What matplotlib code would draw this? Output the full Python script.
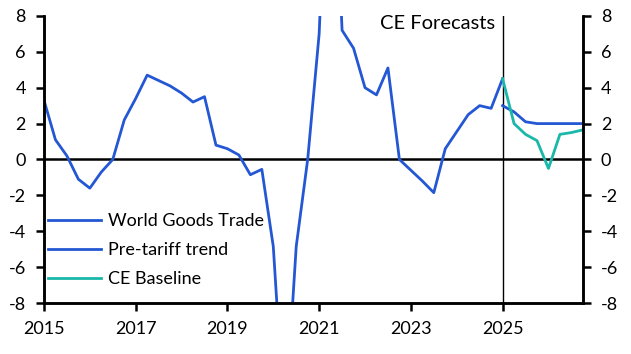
import numpy as np
import matplotlib.pyplot as plt

plt.rcParams['font.family'] = ['Lato', 'DejaVu Sans']
plt.rcParams['axes.unicode_minus'] = False

# quarterly, y/y % change
trade_x = [2015 + 0.25 * i for i in range(41)]
trade_y = [3.3, 1.1, 0.2, -1.1, -1.6, -0.7, 0.0, 2.2, 3.4, 4.7,
           4.4, 4.1, 3.7, 3.2, 3.5, 0.8, 0.6, 0.25, -0.85, -0.55,
           -4.85, -15.0, -4.85, 0.0, 7.0, 22.0, 7.2, 6.2, 4.0, 3.6,
           5.1, 0.0, -0.6, -1.2, -1.85, 0.6, 1.55, 2.5, 3.0, 2.85,
           4.5]

fc_x = [2025 + 0.25 * i for i in range(8)]
trend_y = [3.0, 2.65, 2.1, 2.0, 2.0, 2.0, 2.0, 2.0]
base_y = [4.5, 2.0, 1.4, 1.05, -0.5, 1.4, 1.5, 1.65]

yticks = [-8, -6, -4, -2, 0, 2, 4, 6, 8]
xticks = [2015, 2017, 2019, 2021, 2023, 2025]

blue = '#2457D4'
teal = '#19B8A8'

fig = plt.figure(figsize=(6.31, 3.54), dpi=100)
ax = fig.add_axes([0.0697, 0.144, 0.854, 0.811])

ax.plot(trade_x, trade_y, color=blue, lw=2, label='World Goods Trade')
ax.plot(fc_x, trend_y, color=blue, lw=2, label='Pre-tariff trend')
ax.plot(fc_x, base_y, color=teal, lw=2, label='CE Baseline')

ax.axhline(0, color='black', lw=1.8, zorder=1)
ax.axvline(2025, color='black', lw=1, zorder=1)
ax.text(2024.83, 8.05, 'CE Forecasts', ha='right', va='top', fontsize=14.5)

ax.set_xlim(2015, 2026.75)
ax.set_ylim(-8, 8)
ax.set_xticks(xticks)
ax.set_yticks(yticks)

ax2 = ax.twinx()
ax2.set_ylim(-8, 8)
ax2.set_yticks(yticks)

for a in (ax, ax2):
    a.spines['top'].set_visible(False)
    for s in ('left', 'right', 'bottom'):
        a.spines[s].set_linewidth(1.8)
    a.tick_params(axis='both', length=6, width=1.8, labelsize=13,
                  direction='out', pad=7)

ax.legend(loc='lower left', bbox_to_anchor=(0.0, 0.04), frameon=False,
          fontsize=13, handlelength=2.9, labelspacing=0.72, handletextpad=0.4,
          borderaxespad=0, borderpad=0.25)

fig.savefig('out.png', dpi=100)
